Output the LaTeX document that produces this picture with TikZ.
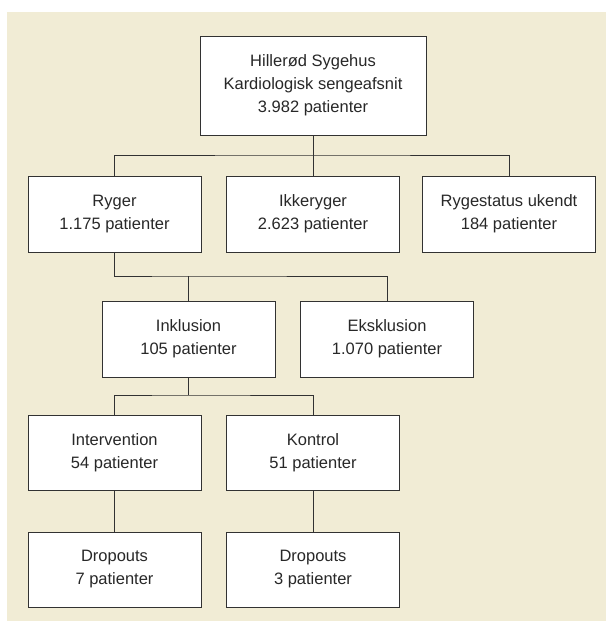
\documentclass[tikz,border=0pt]{standalone}
\usepackage{fontspec}
\setmainfont{Liberation Sans}
\definecolor{panelbg}{RGB}{241,236,213}
\definecolor{boxline}{RGB}{50,50,50}
\definecolor{txt}{RGB}{40,40,40}
\tikzset{
  box/.style={draw=boxline, line width=1pt, fill=white, minimum width=173pt, minimum height=76pt,
    align=center, inner sep=0pt, text=txt, font=\fontsize{16.5}{23}\selectfont},
  link/.style={draw=boxline, line width=1pt}
}
\begin{document}
\begin{tikzpicture}[x=1pt,y=-1pt]
\useasboundingbox (0,0) rectangle (606,621);
\fill[panelbg] (7,12) rectangle (606,621);
\node[box, minimum width=226pt, minimum height=99pt] (top) at (313,85.5) {Hillerød Sygehus\\Kardiologisk sengeafsnit\\3.982 patienter};
\node[box] (ryger) at (114.5,214) {Ryger\\1.175 patienter};
\node[box] (ikke) at (313,214) {Ikkeryger\\2.623 patienter};
\node[box] (ukendt) at (509,214) {Rygestatus ukendt\\184 patienter};
\node[box] (ink) at (188.5,339) {Inklusion\\105 patienter};
\node[box] (eks) at (387,339) {Eksklusion\\1.070 patienter};
\node[box, minimum height=75pt] (interv) at (114.5,452.5) {Intervention\\54 patienter};
\node[box, minimum height=75pt] (kontrol) at (313,452.5) {Kontrol\\51 patienter};
\node[box, minimum height=75pt] (drop1) at (114.5,569.5) {Dropouts\\7 patienter};
\node[box, minimum height=75pt] (drop2) at (313,569.5) {Dropouts\\3 patienter};
\coordinate (j1) at (313,155);
\coordinate (j2) at (188.5,276);
\coordinate (j3) at (188.5,395);
\draw[link] (top.south) -- (j1);
\draw[link] (ryger.north) |- (j1) -| (ukendt.north);
\draw[link] (j1) -- (ikke.north);
\draw[link] (ryger.south) |- (j2) -| (eks.north);
\draw[link] (j2) -- (ink.north);
\draw[link] (ink.south) -- (j3);
\draw[link] (interv.north) |- (j3) -| (kontrol.north);
\draw[link] (interv.south) -- (drop1.north);
\draw[link] (kontrol.south) -- (drop2.north);
\end{tikzpicture}
\end{document}
